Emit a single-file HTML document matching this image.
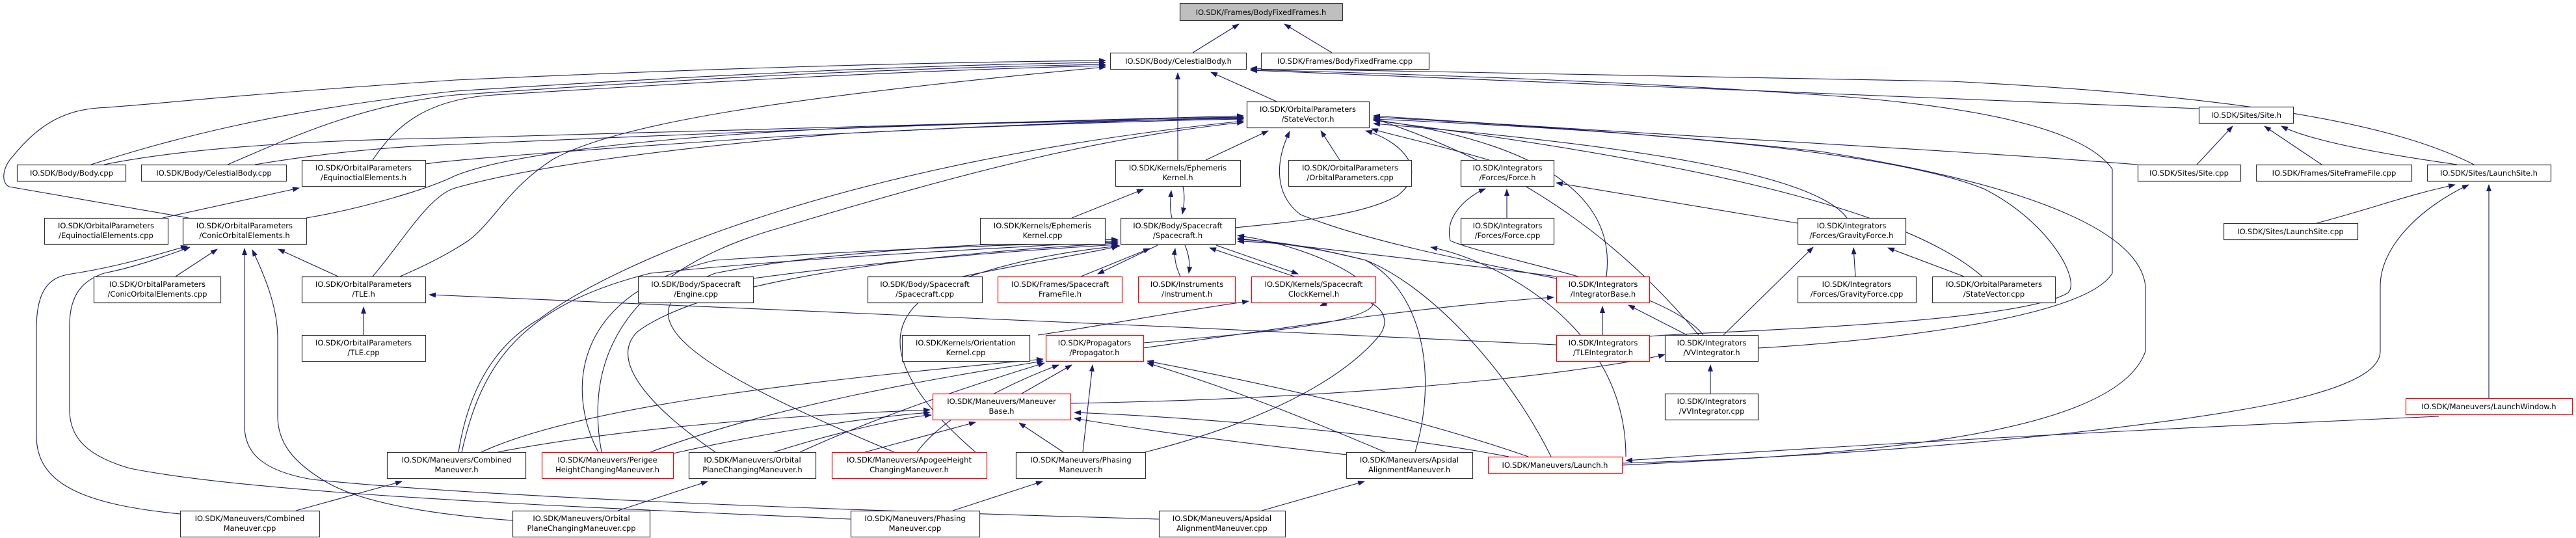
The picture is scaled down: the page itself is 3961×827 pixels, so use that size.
<!DOCTYPE html>
<html><head><meta charset="utf-8">
<style>
html,body{margin:0;padding:0;background:#fff;}
svg{display:block;}
text{font-family:"DejaVu Sans","Liberation Sans",sans-serif;font-size:11.5px;fill:#000;text-anchor:middle;}
.e{fill:none;stroke:#191970;stroke-width:1.1;}
.n{fill:#fff;stroke:#333;stroke-width:1.2;}
.r{fill:#fff;stroke:#ff0000;stroke-width:1.2;}
.g{fill:#bfbfbf;stroke:#333;stroke-width:1.2;}
</style></head><body>
<svg width="3961" height="827" viewBox="0 0 3961 827" xmlns="http://www.w3.org/2000/svg">
<defs><marker id="a" markerWidth="11" markerHeight="8" refX="10" refY="4" orient="auto" markerUnits="userSpaceOnUse"><path d="M0,0 L11,4 L0,8 z" fill="#191970"/></marker></defs>
<g marker-end="url(#a)">
<path class="e" d="M1834,81 L1905,37"/>
<path class="e" d="M2048,81 L1975,37"/>
<path class="e" d="M1963,156 L1862,111"/>
<path class="e" d="M1811,246 L1811,112"/>
<path class="e" d="M1854,246 L1950,201"/>
<path class="e" d="M1648,335 L1758,291"/>
<path class="e" d="M1802,335 C1798,320 1800,305 1801,293"/>
<path class="e" d="M1819,287 C1822,300 1821,315 1818,329"/>
<path class="e" d="M1899,350 C2000,340 2100,330 2150,300 C2200,260 2150,215 2100,201"/>
<path class="e" d="M2393,428 C2250,400 2100,370 2000,330 C1960,300 1960,250 1983,202"/>
<path class="e" d="M140,253 C260,215 420,170 700,140 C1100,115 1400,100 1700,96"/>
<path class="e" d="M350,253 C450,210 560,160 700,146 C1100,118 1400,104 1700,99"/>
<path class="e" d="M573,246 C610,190 660,152 760,146 C1100,125 1400,108 1700,101"/>
<path class="e" d="M290,335 L14,287 C0,280 5,255 20,240 C60,190 100,170 150,166 C250,160 300,150 700,123 C1100,105 1400,96 1700,93"/>
<path class="e" d="M615,425 C650,410 690,390 720,370 C760,340 780,290 850,245 C950,190 1200,150 1700,103"/>
<path class="e" d="M3381,167 C3000,150 2500,130 1923,108"/>
<path class="e" d="M3804,253 C3700,200 3500,150 3000,125 C2500,114 2200,110 1923,105"/>
<path class="e" d="M2703,535 C2800,530 3200,500 3248,420 L3248,260 C3200,190 3000,160 2800,146 C2500,125 2200,115 1923,107"/>
<path class="e" d="M2494,715 C2800,700 3250,680 3299,540 L3299,440 C3290,350 3100,280 2800,233 C2500,200 2200,185 2112,180"/>
<path class="e" d="M3287,253 C3000,230 2500,205 2112,178"/>
<path class="e" d="M3048,425 C2950,340 2700,260 2112,185"/>
<path class="e" d="M2536,517 C2600,510 3100,500 3180,450 C3200,430 3150,340 3050,290 C2900,230 2500,200 2112,183"/>
<path class="e" d="M2494,712 C2900,700 3300,660 3500,620 C3640,590 3660,560 3660,540 L3660,440 C3660,380 3720,320 3796,284"/>
<path class="e" d="M3750,640 C3400,655 2900,680 2500,708"/>
<path class="e" d="M3827,612 L3827,284"/>
<path class="e" d="M3562,343 C3650,320 3700,300 3775,284"/>
<path class="e" d="M3378,253 L3433,194"/>
<path class="e" d="M3570,253 L3482,194"/>
<path class="e" d="M3778,253 C3650,235 3550,215 3508,194"/>
<path class="e" d="M160,253 C300,225 500,215 700,212 C1200,200 1600,185 1912,178"/>
<path class="e" d="M392,253 C500,235 600,225 700,222 C1200,200 1600,185 1912,180"/>
<path class="e" d="M654,252 C700,245 900,230 1200,210 C1500,195 1700,185 1912,181"/>
<path class="e" d="M471,335 C560,320 660,290 700,270 C800,230 1100,200 1500,190 C1700,185 1800,183 1912,182"/>
<path class="e" d="M573,425 C620,370 660,300 700,289 C800,260 1000,230 1300,205 C1600,190 1800,185 1912,183"/>
<path class="e" d="M250,335 L460,289"/>
<path class="e" d="M270,425 L334,383"/>
<path class="e" d="M520,425 L428,383"/>
<path class="e" d="M559,515 L559,472"/>
<path class="e" d="M2393,530 C1800,500 1000,470 660,453"/>
<path class="e" d="M277,790 C120,775 56,740 56,670 L56,505 C56,440 80,425 110,421 C180,410 230,395 288,378"/>
<path class="e" d="M1308,798 C900,780 400,760 200,720 C130,700 107,670 107,630 L107,500 C107,450 130,430 160,420 C210,410 250,395 292,380"/>
<path class="e" d="M1782,798 C1500,790 800,770 480,737 C410,725 376,700 376,655 L376,382"/>
<path class="e" d="M788,800 C650,790 550,770 500,740 C450,710 427,680 427,640 L427,520 C427,470 405,420 388,384"/>
<path class="e" d="M455,785 L618,740"/>
<path class="e" d="M950,785 L1088,740"/>
<path class="e" d="M1465,785 L1603,740"/>
<path class="e" d="M1940,785 L2098,740"/>
<path class="e" d="M1330,695 L1500,649"/>
<path class="e" d="M1635,695 L1567,650"/>
<path class="e" d="M2080,700 C1900,680 1750,660 1652,643"/>
<path class="e" d="M2320,702 C2100,660 1800,640 1652,634"/>
<path class="e" d="M765,695 C1000,650 1300,635 1430,630"/>
<path class="e" d="M1035,697 C1200,660 1350,640 1430,634"/>
<path class="e" d="M1190,695 C1300,660 1400,640 1432,638"/>
<path class="e" d="M1571,605 L1648,561"/>
<path class="e" d="M1665,695 L1680,561"/>
<path class="e" d="M740,695 C900,620 1300,580 1604,552"/>
<path class="e" d="M1000,695 C1200,620 1450,580 1604,555"/>
<path class="e" d="M1230,695 C1350,640 1500,590 1606,558"/>
<path class="e" d="M1410,695 C1450,640 1550,590 1628,561"/>
<path class="e" d="M2130,695 C2000,640 1900,600 1764,558"/>
<path class="e" d="M2350,702 C2200,650 2000,600 1764,555"/>
<path class="e" d="M705,695 C720,600 760,530 830,490 C950,400 1300,250 1912,186"/>
<path class="e" d="M710,695 C740,560 800,470 1000,420 C1300,390 1600,380 1719,370"/>
<path class="e" d="M920,695 C870,600 880,450 1100,400 C1400,380 1600,375 1719,372"/>
<path class="e" d="M925,695 C900,560 950,420 1200,350 C1500,260 1700,210 1912,188"/>
<path class="e" d="M1100,695 C1020,640 930,560 980,510 C1100,420 1500,385 1719,374"/>
<path class="e" d="M1375,695 C1050,560 940,480 1100,420 C1300,380 1600,372 1719,368"/>
<path class="e" d="M1500,695 C1390,600 1330,500 1450,440 C1550,400 1650,385 1722,378"/>
<path class="e" d="M1480,425 C1600,400 1700,385 1719,378"/>
<path class="e" d="M1158,428 C1400,395 1650,380 1719,376"/>
<path class="e" d="M1662,425 L1768,382"/>
<path class="e" d="M1780,377 L1688,421"/>
<path class="e" d="M1815,425 C1808,410 1805,395 1807,382"/>
<path class="e" d="M1822,377 C1828,390 1830,405 1828,420"/>
<path class="e" d="M1990,425 L1860,381"/>
<path class="e" d="M1870,377 L1996,421"/>
<path class="e" d="M1758,527 C1900,515 2090,500 2110,470 C2130,430 2000,375 1903,362"/>
<path class="e" d="M2393,425 C2200,400 2000,380 1903,366"/>
<path class="e" d="M2176,695 C2210,580 2190,450 2100,400 C2000,375 1950,370 1903,368"/>
<path class="e" d="M2385,702 C2320,570 2200,440 2100,400 C2000,375 1950,372 1903,371"/>
<path class="e" d="M1596,515 C1700,500 1800,480 1920,463"/>
<path class="e" d="M1761,695 C1900,660 2050,600 2120,517 C2150,480 2100,440 2030,470"/>
<path class="e" d="M1758,535 C2000,500 2200,470 2389,457"/>
<path class="e" d="M2464,515 L2464,471"/>
<path class="e" d="M2594,515 L2504,469"/>
<path class="e" d="M2619,515 C2560,440 2300,400 2230,370 C2220,330 2260,300 2284,290"/>
<path class="e" d="M2650,515 L2788,380"/>
<path class="e" d="M2630,605 L2630,561"/>
<path class="e" d="M2317,335 L2317,291"/>
<path class="e" d="M2764,343 L2393,281"/>
<path class="e" d="M2840,335 C2800,280 2600,230 2112,190"/>
<path class="e" d="M2853,425 L2850,381"/>
<path class="e" d="M3020,425 L2903,381"/>
<path class="e" d="M2290,246 C2200,220 2130,205 2109,198"/>
<path class="e" d="M2060,246 L2031,201"/>
<path class="e" d="M2470,425 C2480,350 2450,230 2112,184"/>
<path class="e" d="M2612,515 C2500,380 2350,260 2112,182"/>
<path class="e" d="M2500,702 C2500,500 2300,400 2200,380"/>
<path class="e" d="M1646,620 C2200,610 2500,560 2560,545"/>
</g>
<!-- nodes -->
<rect class="g" x="1814.5" y="5.5" width="250" height="26"/><text x="1939" y="23">IO.SDK/Frames/BodyFixedFrames.h</text>
<rect class="n" x="1707.5" y="81.5" width="209" height="25"/><text x="1812" y="98">IO.SDK/Body/CelestialBody.h</text>
<rect class="n" x="1939.5" y="81.5" width="258" height="25"/><text x="2068" y="98">IO.SDK/Frames/BodyFixedFrame.cpp</text>
<rect class="n" x="1917.5" y="156.5" width="188" height="40"/><text x="2011" y="172">IO.SDK/OrbitalParameters</text><text x="2011" y="187">/StateVector.h</text>
<rect class="n" x="3381.5" y="164.5" width="145" height="25"/><text x="3454" y="181">IO.SDK/Sites/Site.h</text>
<rect class="n" x="26.5" y="253.5" width="167" height="25"/><text x="110" y="270">IO.SDK/Body/Body.cpp</text>
<rect class="n" x="217.5" y="253.5" width="223" height="25"/><text x="329" y="270">IO.SDK/Body/CelestialBody.cpp</text>
<rect class="n" x="464.5" y="246.5" width="190" height="40"/><text x="559" y="262">IO.SDK/OrbitalParameters</text><text x="559" y="277">/EquinoctialElements.h</text>
<rect class="n" x="1715.5" y="246.5" width="192" height="40"/><text x="1811" y="262">IO.SDK/Kernels/Ephemeris</text><text x="1811" y="277">Kernel.h</text>
<rect class="n" x="1981.5" y="246.5" width="189" height="40"/><text x="2076" y="262">IO.SDK/OrbitalParameters</text><text x="2076" y="277">/OrbitalParameters.cpp</text>
<rect class="n" x="2246.5" y="246.5" width="143" height="40"/><text x="2318" y="262">IO.SDK/Integrators</text><text x="2318" y="277">/Forces/Force.h</text>
<rect class="n" x="3287.5" y="253.5" width="158" height="25"/><text x="3366" y="270">IO.SDK/Sites/Site.cpp</text>
<rect class="n" x="3469.5" y="253.5" width="239" height="25"/><text x="3589" y="270">IO.SDK/Frames/SiteFrameFile.cpp</text>
<rect class="n" x="3732.5" y="253.5" width="190" height="25"/><text x="3827" y="270">IO.SDK/Sites/LaunchSite.h</text>
<rect class="n" x="68.5" y="335.5" width="190" height="40"/><text x="163" y="351">IO.SDK/OrbitalParameters</text><text x="163" y="366">/EquinoctialElements.cpp</text>
<rect class="n" x="281.5" y="335.5" width="190" height="40"/><text x="376" y="351">IO.SDK/OrbitalParameters</text><text x="376" y="366">/ConicOrbitalElements.h</text>
<rect class="n" x="1507.5" y="335.5" width="192" height="40"/><text x="1603" y="351">IO.SDK/Kernels/Ephemeris</text><text x="1603" y="366">Kernel.cpp</text>
<rect class="n" x="1723.5" y="335.5" width="176" height="40"/><text x="1811" y="351">IO.SDK/Body/Spacecraft</text><text x="1811" y="366">/Spacecraft.h</text>
<rect class="n" x="2246.5" y="335.5" width="143" height="40"/><text x="2318" y="351">IO.SDK/Integrators</text><text x="2318" y="366">/Forces/Force.cpp</text>
<rect class="n" x="2764.5" y="335.5" width="166" height="40"/><text x="2847" y="351">IO.SDK/Integrators</text><text x="2847" y="366">/Forces/GravityForce.h</text>
<rect class="n" x="3419.5" y="343.5" width="206" height="25"/><text x="3522" y="360">IO.SDK/Sites/LaunchSite.cpp</text>
<rect class="n" x="144.5" y="425.5" width="195" height="40"/><text x="242" y="441">IO.SDK/OrbitalParameters</text><text x="242" y="456">/ConicOrbitalElements.cpp</text>
<rect class="n" x="464.5" y="425.5" width="190" height="40"/><text x="559" y="441">IO.SDK/OrbitalParameters</text><text x="559" y="456">/TLE.h</text>
<rect class="n" x="981.5" y="425.5" width="177" height="40"/><text x="1070" y="441">IO.SDK/Body/Spacecraft</text><text x="1070" y="456">/Engine.cpp</text>
<rect class="n" x="1334.5" y="425.5" width="176" height="40"/><text x="1422" y="441">IO.SDK/Body/Spacecraft</text><text x="1422" y="456">/Spacecraft.cpp</text>
<rect class="r" x="1534.5" y="425.5" width="191" height="40"/><text x="1630" y="441">IO.SDK/Frames/Spacecraft</text><text x="1630" y="456">FrameFile.h</text>
<rect class="r" x="1750.5" y="425.5" width="149" height="40"/><text x="1825" y="441">IO.SDK/Instruments</text><text x="1825" y="456">/Instrument.h</text>
<rect class="r" x="1924.5" y="425.5" width="191" height="40"/><text x="2020" y="441">IO.SDK/Kernels/Spacecraft</text><text x="2020" y="456">ClockKernel.h</text>
<rect class="r" x="2393.5" y="425.5" width="143" height="40"/><text x="2465" y="441">IO.SDK/Integrators</text><text x="2465" y="456">/IntegratorBase.h</text>
<rect class="n" x="2764.5" y="425.5" width="182" height="40"/><text x="2855" y="441">IO.SDK/Integrators</text><text x="2855" y="456">/Forces/GravityForce.cpp</text>
<rect class="n" x="2971.5" y="425.5" width="189" height="40"/><text x="3066" y="441">IO.SDK/OrbitalParameters</text><text x="3066" y="456">/StateVector.cpp</text>
<rect class="n" x="464.5" y="515.5" width="190" height="40"/><text x="559" y="531">IO.SDK/OrbitalParameters</text><text x="559" y="546">/TLE.cpp</text>
<rect class="n" x="1387.5" y="515.5" width="196" height="40"/><text x="1485" y="531">IO.SDK/Kernels/Orientation</text><text x="1485" y="546">Kernel.cpp</text>
<rect class="r" x="1608.5" y="515.5" width="150" height="40"/><text x="1683" y="531">IO.SDK/Propagators</text><text x="1683" y="546">/Propagator.h</text>
<rect class="r" x="2393.5" y="515.5" width="143" height="40"/><text x="2465" y="531">IO.SDK/Integrators</text><text x="2465" y="546">/TLEIntegrator.h</text>
<rect class="n" x="2560.5" y="515.5" width="143" height="40"/><text x="2632" y="531">IO.SDK/Integrators</text><text x="2632" y="546">/VVIntegrator.h</text>
<rect class="r" x="1434.5" y="605.5" width="212" height="40"/><text x="1540" y="621">IO.SDK/Maneuvers/Maneuver</text><text x="1540" y="636">Base.h</text>
<rect class="n" x="2560.5" y="605.5" width="143" height="40"/><text x="2632" y="621">IO.SDK/Integrators</text><text x="2632" y="636">/VVIntegrator.cpp</text>
<rect class="r" x="3699.5" y="612.5" width="256" height="25"/><text x="3827" y="629">IO.SDK/Maneuvers/LaunchWindow.h</text>
<rect class="n" x="595.5" y="695.5" width="213" height="40"/><text x="702" y="711">IO.SDK/Maneuvers/Combined</text><text x="702" y="726">Maneuver.h</text>
<rect class="r" x="833.5" y="695.5" width="202" height="40"/><text x="934" y="711">IO.SDK/Maneuvers/Perigee</text><text x="934" y="726">HeightChangingManeuver.h</text>
<rect class="n" x="1059.5" y="695.5" width="195" height="40"/><text x="1157" y="711">IO.SDK/Maneuvers/Orbital</text><text x="1157" y="726">PlaneChangingManeuver.h</text>
<rect class="r" x="1279.5" y="695.5" width="238" height="40"/><text x="1398" y="711">IO.SDK/Maneuvers/ApogeeHeight</text><text x="1398" y="726">ChangingManeuver.h</text>
<rect class="n" x="1562.5" y="695.5" width="199" height="40"/><text x="1662" y="711">IO.SDK/Maneuvers/Phasing</text><text x="1662" y="726">Maneuver.h</text>
<rect class="n" x="2070.5" y="695.5" width="194" height="40"/><text x="2167" y="711">IO.SDK/Maneuvers/Apsidal</text><text x="2167" y="726">AlignmentManeuver.h</text>
<rect class="r" x="2288.5" y="702.5" width="206" height="25"/><text x="2391" y="719">IO.SDK/Maneuvers/Launch.h</text>
<rect class="n" x="277.5" y="785.5" width="214" height="40"/><text x="384" y="801">IO.SDK/Maneuvers/Combined</text><text x="384" y="816">Maneuver.cpp</text>
<rect class="n" x="788.5" y="785.5" width="211" height="40"/><text x="894" y="801">IO.SDK/Maneuvers/Orbital</text><text x="894" y="816">PlaneChangingManeuver.cpp</text>
<rect class="n" x="1308.5" y="785.5" width="198" height="40"/><text x="1407" y="801">IO.SDK/Maneuvers/Phasing</text><text x="1407" y="816">Maneuver.cpp</text>
<rect class="n" x="1782.5" y="785.5" width="194" height="40"/><text x="1879" y="801">IO.SDK/Maneuvers/Apsidal</text><text x="1879" y="816">AlignmentManeuver.cpp</text>
</svg>
</body></html>
